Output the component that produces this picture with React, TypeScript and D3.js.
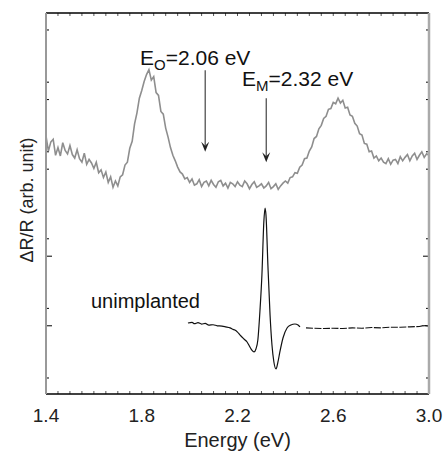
import React from "react";
import * as d3 from "d3";

// Gray (implanted) spectrum: sampled every 0.01 eV from 1.40 to 3.00 eV
const GRAY_START = 1.4;
const GRAY_STEP = 0.01;
const grayValues = [
  34.8, 32.6, 33.9, 34.3, 32.0, 33.1, 31.9, 33.8, 32.7, 32.2,
  33.4, 32.1, 31.6, 32.8, 31.5, 31.0, 32.3, 30.7, 31.4, 30.9,
  30.1, 31.0, 29.5, 29.9, 28.8, 29.6, 28.1, 28.9, 27.4, 28.3,
  27.6, 28.9, 29.2, 30.6, 31.0, 33.0, 34.0, 36.5, 38.1, 40.2,
  41.3, 42.6, 43.6, 44.3, 42.8, 43.3, 41.0, 40.6, 38.3, 37.9,
  35.9, 34.6, 33.1, 32.0, 31.2, 30.3, 29.6, 29.3, 28.6, 28.8,
  28.1, 28.6, 27.7, 27.9, 28.5, 27.5, 28.1, 28.3, 27.6, 28.4,
  27.8, 27.4, 28.2, 28.4, 27.6, 28.0, 27.3, 28.1, 27.9, 27.5,
  28.2, 27.7, 27.5, 28.3, 27.9, 27.2, 27.8, 28.2, 27.4, 27.6,
  27.9, 27.3, 27.6, 28.1, 27.2, 27.5, 27.9, 27.1, 27.6, 28.0,
  28.3, 28.0, 28.8, 28.9, 29.5, 29.4, 30.3, 30.6, 31.5, 31.6,
  32.6, 33.2, 34.4, 34.7, 35.8, 36.3, 37.3, 37.6, 38.6, 38.7,
  39.6, 39.4, 40.2, 39.5, 39.9, 38.8, 38.9, 37.8, 37.6, 36.6,
  36.2, 35.1, 34.9, 33.7, 33.6, 32.5, 32.6, 31.6, 31.9, 31.2,
  31.6, 31.0, 30.8, 31.5, 30.7, 31.3, 31.4, 30.8, 31.8, 31.2,
  31.7, 32.1, 31.2, 31.9, 32.3, 31.4, 32.0, 32.5, 31.7, 32.2,
  32.0,
];

// Black (unimplanted) spectrum, first segment
const blackEnergy = [
  1.993, 2.01, 2.02, 2.035, 2.05, 2.065, 2.08, 2.098, 2.115, 2.135,
  2.15, 2.169, 2.18, 2.189, 2.2, 2.21, 2.227, 2.24, 2.252, 2.26,
  2.269, 2.277, 2.285, 2.294, 2.302, 2.31, 2.315, 2.319, 2.327, 2.336,
  2.344, 2.352, 2.361, 2.369, 2.377, 2.39, 2.407, 2.423, 2.44, 2.453,
  2.461,
];
const blackValues = [
  7.9, 8.0, 7.8, 7.95, 7.75, 7.85, 7.6, 7.65, 7.5, 7.45,
  7.35, 7.2, 7.0, 6.9, 6.6, 6.2, 5.6, 5.17, 4.45, 4.0,
  3.74, 4.17, 5.46, 9.77, 14.8, 22.4, 24.4, 23.4, 16.2, 9.05,
  4.74, 2.3, 1.29, 2.3, 3.74, 5.75, 7.18, 7.61, 7.76, 7.61,
  7.33,
];
// Black spectrum, second (dashed) segment
const blackEnergy2 = [2.486, 2.52, 2.56, 2.6, 2.64, 2.68, 2.72, 2.76, 2.8, 2.84, 2.88, 2.92, 2.96, 2.98, 3.0];
const blackValues2 = [7.2, 7.15, 7.1, 7.15, 7.1, 7.2, 7.15, 7.25, 7.2, 7.3, 7.3, 7.35, 7.4, 7.55, 7.45];

// Axis ticks
const xTickLabels = [1.4, 1.8, 2.2, 2.6, 3.0];
const xMinorStep = 0.05;
const yTicksShort = [0, 10, 20, 30, 40, 50, 32.5, 42.5];
const yTicksLong = [7.5, 17.5];

// Markers
const markerEnergy = [2.065, 2.32];
const markerSub = ["O", "M"];
const markerText = ["=2.06 eV", "=2.32 eV"];
const markerTop = [44.2, 40.2];
const markerTip = [32.5, 31.0];

const W = 443;
const H = 454;
const L = 46, R = 429, T = 13, B = 394;
const FONT = "'Liberation Sans', Arial, Helvetica, sans-serif";

export default function App() {
  const x = d3.scaleLinear().domain([1.4, 3.0]).range([L, R]);
  const y = d3.scaleLinear().domain([-2.3, 52.44]).range([B, T]);

  const grayData = grayValues.map((v, i) => [GRAY_START + i * GRAY_STEP, v] as [number, number]);
  const black1 = blackEnergy.map((e, i) => [e, blackValues[i]] as [number, number]);
  const black2 = blackEnergy2.map((e, i) => [e, blackValues2[i]] as [number, number]);

  const line = d3.line<[number, number]>().x((d) => x(d[0])).y((d) => y(d[1]));
  const blackLine = d3
    .line<[number, number]>()
    .x((d) => x(d[0]))
    .y((d) => y(d[1]))
    .curve(d3.curveMonotoneX);

  const minorTicks = d3.range(1.4, 3.0001, xMinorStep);

  const labelX = [140, 242];
  const labelY = [65, 86];

  return (
    <svg
      width={W}
      height={H}
      style={{ position: "absolute", left: 0, top: 0, background: "#fff" }}
      fontFamily={FONT}
    >
      <rect x={0} y={0} width={W} height={H} fill="#fff" />
      {minorTicks.map((t, i) => (
        <g key={"xt" + i} stroke="#555" strokeWidth={1}>
          <line x1={x(t)} x2={x(t)} y1={B} y2={B - 3} />
          <line x1={x(t)} x2={x(t)} y1={T} y2={T + 3} />
        </g>
      ))}
      {yTicksShort.map((t, i) => (
        <g key={"ys" + i} stroke="#000" strokeWidth={1}>
          <line x1={L} x2={L + 3} y1={y(t)} y2={y(t)} />
          <line x1={R} x2={R - 3} y1={y(t)} y2={y(t)} />
        </g>
      ))}
      {yTicksLong.map((t, i) => (
        <g key={"yl" + i} stroke="#000" strokeWidth={1}>
          <line x1={L} x2={L + 6} y1={y(t)} y2={y(t)} />
          <line x1={R} x2={R - 6} y1={y(t)} y2={y(t)} />
        </g>
      ))}

      <path d={line(grayData) || ""} fill="none" stroke="#8e8e8e" strokeWidth={1.6} />
      <path d={blackLine(black1) || ""} fill="none" stroke="#111" strokeWidth={1.2} />
      <path
        d={line(black2) || ""}
        fill="none"
        stroke="#111"
        strokeWidth={1.1}
        strokeDasharray="7 1.5"
      />

      <line x1={L} x2={R} y1={T} y2={T} stroke="#000" strokeWidth={1.5} />
      <line x1={L} x2={R} y1={B} y2={B} stroke="#000" strokeWidth={1.5} />
      <line x1={L} x2={L} y1={T} y2={B} stroke="#999" strokeWidth={2} />
      <line x1={R} x2={R} y1={T} y2={B} stroke="#aaa" strokeWidth={2.5} />

      {markerEnergy.map((e, i) => {
        const px = x(e);
        const tip = y(markerTip[i]);
        return (
          <g key={"m" + i}>
            <line x1={px} x2={px} y1={y(markerTop[i])} y2={tip - 6} stroke="#333" strokeWidth={1.1} />
            <path
              d={`M${px - 4},${tip - 10} L${px},${tip - 6} L${px + 4},${tip - 10} L${px},${tip} Z`}
              fill="#222"
            />
            <text x={labelX[i]} y={labelY[i]} fontSize={21} fill="#111">
              <tspan>E</tspan>
              <tspan dy={5} fontSize={15}>{markerSub[i]}</tspan>
              <tspan dy={-5}>{markerText[i]}</tspan>
            </text>
          </g>
        );
      })}

      <text x={91} y={308} fontSize={20} fill="#111">unimplanted</text>

      {xTickLabels.map((t, i) => (
        <text key={"xl" + i} x={x(t)} y={422} fontSize={19} textAnchor="middle" fill="#222">
          {t.toFixed(1)}
        </text>
      ))}
      <text x={(L + R) / 2} y={447} fontSize={20} textAnchor="middle" fill="#222">
        Energy (eV)
      </text>
      <text
        transform={`translate(33,200) rotate(-90)`}
        fontSize={18}
        textAnchor="middle"
        fill="#222"
      >
        ΔR/R (arb. unit)
      </text>
    </svg>
  );
}
